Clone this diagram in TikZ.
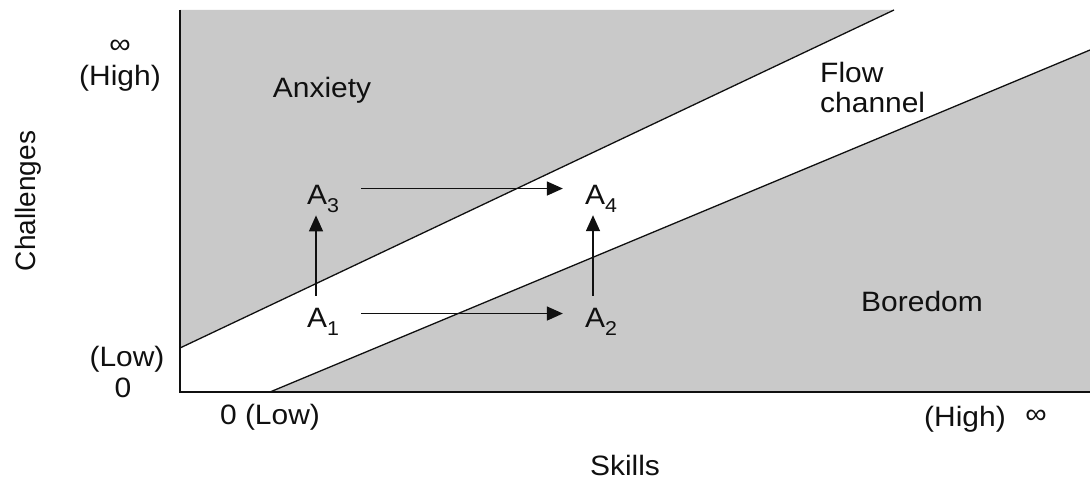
\documentclass[tikz,border=0pt]{standalone}
\usepackage{fontspec}
\setmainfont{Liberation Sans}[FakeStretch=1.07]
\newfontfamily\plainsans{Liberation Sans}
\usetikzlibrary{arrows.meta}
\definecolor{zone}{HTML}{C9C9C9}
\definecolor{ink}{HTML}{101010}
\newcommand\sbs[1]{\raisebox{-8pt}{\fontsize{20}{20}\selectfont #1}}
\begin{document}
\begin{tikzpicture}[x=1pt,y=-1pt,
  lbl/.style={inner sep=0pt, text=ink, font=\fontsize{28}{30}\selectfont},
  state/.style={lbl},
  arr/.style={draw=ink, line width=1.5pt, -{Triangle[length=16pt,width=14pt]}},
  edge/.style={draw=ink, line width=1.3pt},
  axis/.style={draw=ink, line width=1.7pt}]
\useasboundingbox (0,0) rectangle (1090,481);
% regions
\coordinate (o) at (180,392);
\coordinate (ytop) at (180,10);
\coordinate (xend) at (1090,392);
\coordinate (u0) at (180,348);
\coordinate (u1) at (894,10);
\coordinate (l0) at (270,392);
\coordinate (l1) at (1090,50);
\fill[zone] (ytop) -- (u1) -- (u0) -- cycle;
\fill[zone] (l0) -- (l1) -- (xend) -- cycle;
\draw[edge] (u0) -- (u1);
\draw[edge] (l0) -- (l1);
\draw[axis] (ytop) -- (o) -- (xend);
% labels
\node[lbl, anchor=base] (anx) at (322,98) {Anxiety};
\node[lbl, anchor=north west, align=left] (flow) at (820,62) {Flow\\channel};
\node[lbl, anchor=base] (bor) at (922,312) {Boredom};
\node[lbl] (yinf) at (120,47) {∞};
\node[lbl, anchor=base] (yhigh) at (120,86) {(High)};
\node[lbl, anchor=base] (ylow) at (127,366) {(Low)};
\node[lbl, anchor=base] (yzero) at (123,397) {0};
\node[lbl, anchor=base] (xlow) at (270,424) {0 (Low)};
\node[lbl, anchor=base] (xhigh) at (965,426) {(High)};
\node[lbl] (xinf) at (1036,417) {∞};
\node[lbl, anchor=base] (skills) at (625,475) {Skills};
\node[lbl, anchor=base, rotate=90, font=\plainsans\fontsize{28}{30}\selectfont] (chal) at (35,201) {Challenges};
% states
\node[state, anchor=base] (A1) at (323,327) {A\sbs{1}};
\node[state, anchor=base] (A2) at (601,327) {A\sbs{2}};
\node[state, anchor=base] (A3) at (323,205) {A\sbs{3}};
\node[state, anchor=base] (A4) at (601,205) {A\sbs{4}};
\draw[arr] ([shift={(-7,-12)}]A1.north) -- ([shift={(-7,2)}]A3.south);
\draw[arr] ([shift={(-8,-12)}]A2.north) -- ([shift={(-8,2)}]A4.south);
\draw[arr] ([shift={(22,6)}]A1.north east) -- ([shift={(-22,6)}]A2.north west);
\draw[arr] ([shift={(22,3)}]A3.north east) -- ([shift={(-22,3)}]A4.north west);
\end{tikzpicture}
\end{document}
